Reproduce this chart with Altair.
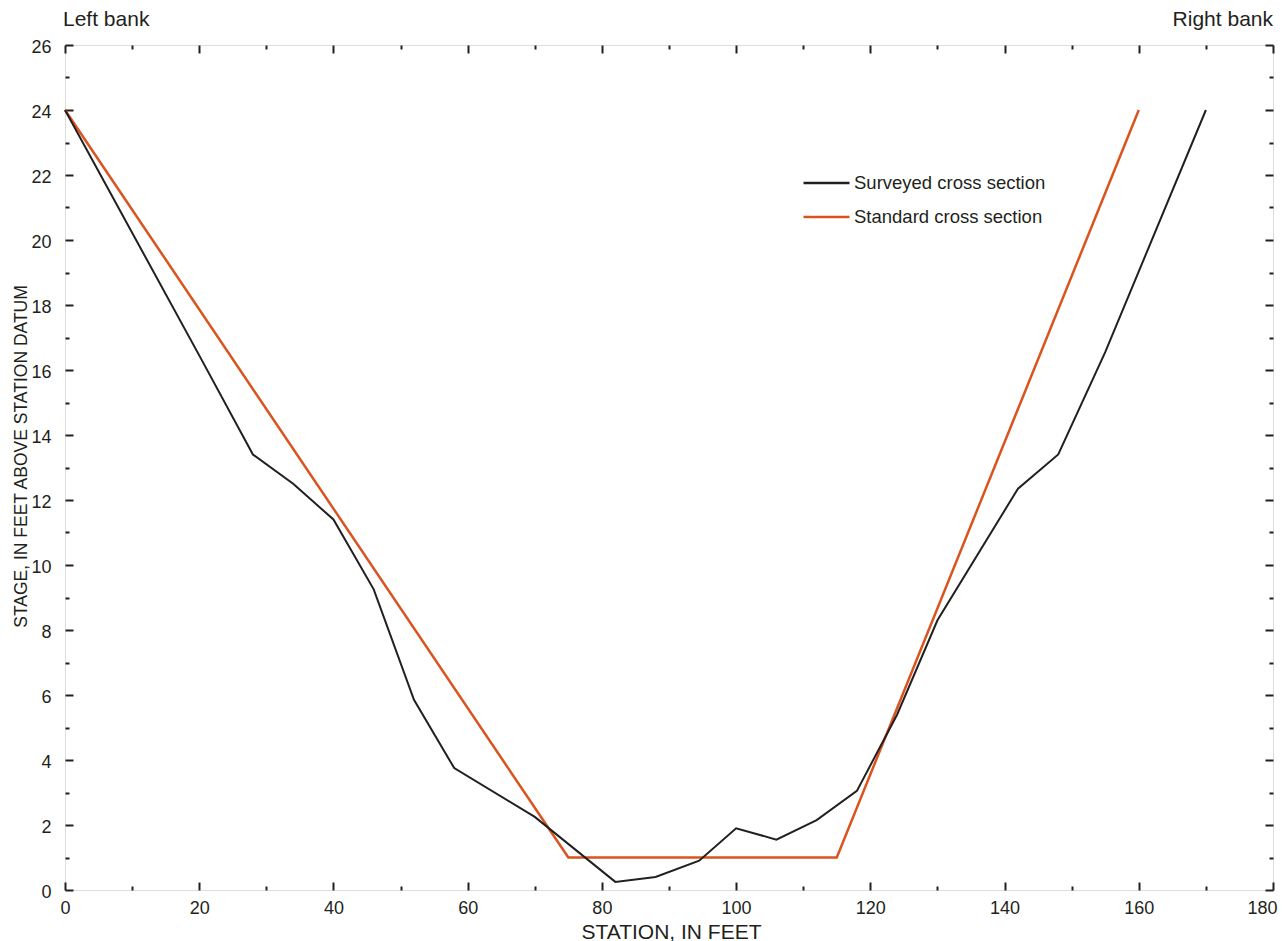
import altair as alt
import pandas as pd

# ---- data ----
surveyed_station = [0, 20, 28, 34, 40, 46, 52, 58, 70, 82, 88, 94.5, 100, 106, 112, 118, 124, 130, 142, 148, 155, 170]
surveyed_stage = [24, 16.45, 13.4, 12.5, 11.4, 9.25, 5.85, 3.75, 2.25, 0.25, 0.4, 0.9, 1.9, 1.55, 2.15, 3.05, 5.4, 8.3, 12.35, 13.4, 16.55, 24]
standard_station = [0, 75, 115, 160]
standard_stage = [24, 1, 1, 24]
series_names = ["Surveyed cross section", "Standard cross section"]
series_colors = ["#231f20", "#d9541e"]
x_major = [0, 20, 40, 60, 80, 100, 120, 140, 160, 180]
x_minor = [10, 30, 50, 70, 90, 110, 130, 150, 170]
x_labels_centered = [0, 20, 40, 60, 80, 100, 120, 140, 160]
x_labels_flush = [180]
y_major = [0, 2, 4, 6, 8, 10, 12, 14, 16, 18, 20, 22, 24, 26]
y_minor = [1, 3, 5, 7, 9, 11, 13, 15, 17, 19, 21, 23, 25]
bank_labels = ["Left bank", "Right bank"]

INK = "#231f20"
FONT = "Liberation Sans"
W, H = 1208, 845

sur_df = pd.DataFrame({"station": surveyed_station, "stage": surveyed_stage, "series": series_names[0]})
std_df = pd.DataFrame({"station": standard_station, "stage": standard_stage, "series": series_names[1]})

xs = alt.Scale(domain=[0, 180], nice=False, zero=False)
ys = alt.Scale(domain=[0, 26], nice=False, zero=False)

label_x_axis = alt.Axis(
    orient="bottom", values=x_labels_centered, ticks=False, tickSize=0, domain=False, grid=False,
    labelFontSize=18, labelPadding=23, labelBaseline="alphabetic", labelFlush=False,
    labelOverlap=False, labelColor=INK, labelFont=FONT,
    title="STATION, IN FEET", titleFontSize=21, titleFontWeight="normal", titleColor=INK,
    titleFont=FONT, titleX=606, titleY=48, titleBaseline="alphabetic", titleAlign="center",
)
flush_x_axis = alt.Axis(
    orient="bottom", values=x_labels_flush, ticks=False, tickSize=0, domain=False, grid=False,
    labelFontSize=18, labelPadding=23, labelBaseline="alphabetic", labelFlush=True,
    labelFlushOffset=4, labelOverlap=False, labelColor=INK, labelFont=FONT, title=None,
)
label_y_axis = alt.Axis(
    orient="left", values=y_major, ticks=False, tickSize=0, domain=False, grid=False,
    labelFontSize=18, labelPadding=14, labelFlush=False, labelOverlap=False,
    labelOffset=2, labelColor=INK, labelFont=FONT,
    title="STAGE, IN FEET ABOVE STATION DATUM", titleFontSize=17.5, titleFontWeight="normal",
    titleColor=INK, titleFont=FONT, titleX=-39, titleY=411, titleBaseline="alphabetic",
    titleAngle=270, titleAlign="center",
)


def tick_axis(orient, values, size, offset):
    return alt.Axis(
        orient=orient, offset=offset, values=values, ticks=True, tickSize=size,
        tickWidth=2, tickColor=INK, labels=False, domain=False, grid=False, title=None,
    )


color = alt.Color(
    "series:N",
    scale=alt.Scale(domain=series_names, range=series_colors),
    legend=alt.Legend(
        orient="none", legendX=737, legendY=128, title=None, symbolType="stroke",
        symbolSize=2116, symbolStrokeWidth=2.5, clipHeight=20, rowPadding=14,
        labelOffset=3, labelFontSize=18.5, labelColor=INK, labelFont=FONT,
        padding=0, labelLimit=400, direction="vertical",
    ),
)

standard = alt.Chart(std_df).mark_line(strokeWidth=2.5).encode(
    x=alt.X("station:Q", scale=xs, axis=label_x_axis),
    y=alt.Y("stage:Q", scale=ys, axis=label_y_axis),
    color=color,
)
surveyed = alt.Chart(sur_df).mark_line(strokeWidth=2).encode(
    x=alt.X("station:Q", scale=xs, axis=tick_axis("top", x_major, 8, -H)),
    y=alt.Y("stage:Q", scale=ys, axis=tick_axis("right", y_major, 8, -W)),
    color=color,
)
ticks_major2 = alt.Chart(sur_df).mark_line(strokeOpacity=0).encode(
    x=alt.X("station:Q", scale=xs, axis=tick_axis("bottom", x_major, 8, -H)),
    y=alt.Y("stage:Q", scale=ys, axis=tick_axis("left", y_major, 8, -W)),
)
ticks_minor1 = alt.Chart(sur_df).mark_line(strokeOpacity=0).encode(
    x=alt.X("station:Q", scale=xs, axis=tick_axis("top", x_minor, 4, -H)),
    y=alt.Y("stage:Q", scale=ys, axis=tick_axis("right", y_minor, 4, -W)),
)
ticks_minor2 = alt.Chart(sur_df).mark_line(strokeOpacity=0).encode(
    x=alt.X("station:Q", scale=xs, axis=tick_axis("bottom", x_minor, 4, -H)),
    y=alt.Y("stage:Q", scale=ys, axis=tick_axis("left", y_minor, 4, -W)),
)
flush_labels = alt.Chart(sur_df).mark_line(strokeOpacity=0).encode(
    x=alt.X("station:Q", scale=xs, axis=flush_x_axis),
    y=alt.Y("stage:Q", scale=ys, axis=None),
)

left_txt = alt.Chart(pd.DataFrame({"label": [bank_labels[0]]})).mark_text(
    align="left", baseline="alphabetic", fontSize=21, color=INK, font=FONT
).encode(x=alt.value(-2), y=alt.value(-19), text="label:N")
right_txt = alt.Chart(pd.DataFrame({"label": [bank_labels[1]]})).mark_text(
    align="right", baseline="alphabetic", fontSize=21, color=INK, font=FONT
).encode(x=alt.value(W), y=alt.value(-19), text="label:N")

chart = (
    alt.layer(standard, surveyed, ticks_major2, ticks_minor1, ticks_minor2, flush_labels,
              left_txt, right_txt)
    .resolve_axis(x="independent", y="independent")
    .properties(
        width=W, height=H,
        autosize=alt.AutoSizeParams(type="none"),
        padding={"left": 57, "top": 37, "right": 5, "bottom": 51},
    )
    .configure_view(stroke=INK, strokeWidth=1.3)
    .configure(font=FONT, background="white")
)

chart.save("out.html", embed_options={"renderer": "svg", "actions": False})
